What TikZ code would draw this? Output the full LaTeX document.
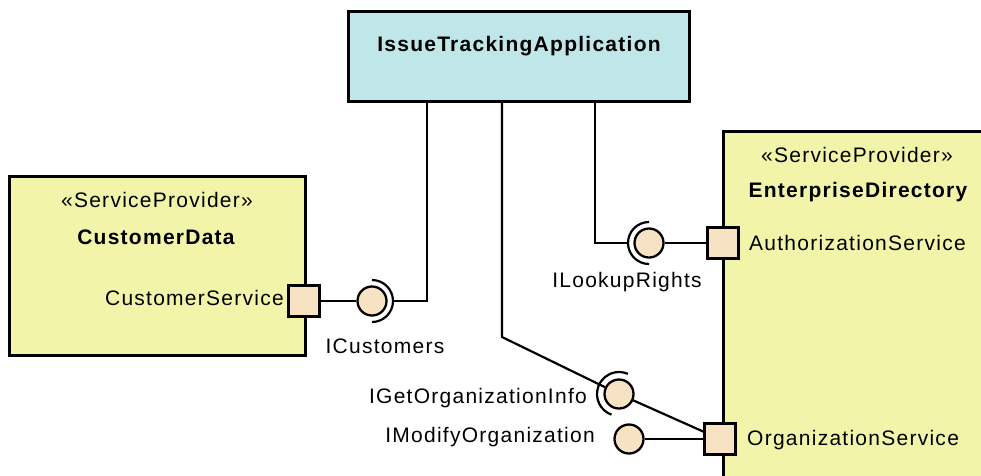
\documentclass[tikz,border=0pt]{standalone}
\usepackage{fontspec}
\setmainfont[LetterSpace=6]{Liberation Sans}
\definecolor{appfill}{HTML}{BFE6E8}
\definecolor{provfill}{HTML}{F2F5A9}
\definecolor{portfill}{HTML}{F8E2C4}
\begin{document}
\begin{tikzpicture}[x=1pt,y=-1pt,
  txt/.style={inner sep=0pt,font=\fontsize{21}{25}\selectfont},
  btxt/.style={inner sep=0pt,font=\fontsize{21}{25}\selectfont\bfseries},
  port/.style={draw=black,line width=2.3pt,fill=portfill,minimum size=31pt,inner sep=0pt},
  ball/.style={circle,draw=black,line width=2.3pt,fill=portfill,minimum size=29pt,inner sep=0pt},
  conn/.style={draw=black,line width=2.2pt},
  boxline/.style={draw=black,line width=2.6pt}]
\useasboundingbox (0,0) rectangle (981,475);
\clip (0,0) rectangle (981,475);
% components
\node[boxline,fill=appfill,minimum width=341pt,minimum height=90pt,inner sep=0pt,anchor=north west] (app) at (347,10) {};
\node[btxt] (apptxt) at (519,46) {IssueTrackingApplication};
\node[boxline,fill=provfill,minimum width=296pt,minimum height=179pt,inner sep=0pt,anchor=north west] (cd) at (8,175) {};
\node[txt] (cdst) at (157,200) {«ServiceProvider»};
\node[btxt] (cdname) at (156,237) {CustomerData};
\node[txt,anchor=east] (cstxt) at (284,298) {CustomerService};
\node[boxline,fill=provfill,minimum width=280pt,minimum height=360pt,inner sep=0pt,anchor=north west] (ed) at (722,130) {};
\node[txt] (edst) at (857,155) {«ServiceProvider»};
\node[btxt] (edname) at (858,192) {EnterpriseDirectory};
\node[txt,anchor=west] (astxt) at (749,243) {AuthorizationService};
\node[txt,anchor=west] (ostxt) at (747,440) {OrganizationService};
% ports
\node[port] (csport) at (304,301) {};
\node[port] (authport) at (723,243) {};
\node[port] (orgport) at (720,439) {};
% balls
\node[ball] (cc) at (372,301) {};
\node[ball] (lr) at (649,243) {};
\node[ball] (go) at (619,394) {};
\node[ball] (mo) at (629,439) {};
% labels
\node[txt] (cclab) at (385,346) {ICustomers};
\node[txt] (lrlab) at (627,282) {ILookupRights};
\node[txt,anchor=east] (golab) at (587,398) {IGetOrganizationInfo};
\node[txt,anchor=east] (molab) at (595,437) {IModifyOrganization};
% coordinates
\coordinate (c1) at (427,301);
\coordinate (c2) at (595,243);
\coordinate (c3) at (502,337);
% provided interfaces
\draw[conn] (csport) -- (cc);
\draw[conn] (lr) -- (authport);
\draw[conn] (go) -- (orgport);
\draw[conn] (mo) -- (orgport);
% sockets
\draw[conn] ([shift={(90:21)}]cc.center) arc[start angle=90,end angle=-90,radius=21];
\draw[conn] ([shift={(90:21)}]lr.center) arc[start angle=90,end angle=270,radius=21];
\draw[conn] ([shift={(110:22)}]go.center) arc[start angle=110,end angle=294,radius=22];
% required connectors
\draw[conn] ([shift={(0:21)}]cc.center) -- (c1) -- (c1 |- app.south);
\draw[conn] ([shift={(180:21)}]lr.center) -- (c2) -- (c2 |- app.south);
\draw[conn] (go) -- (c3) -- (c3 |- app.south);
\end{tikzpicture}
\end{document}
